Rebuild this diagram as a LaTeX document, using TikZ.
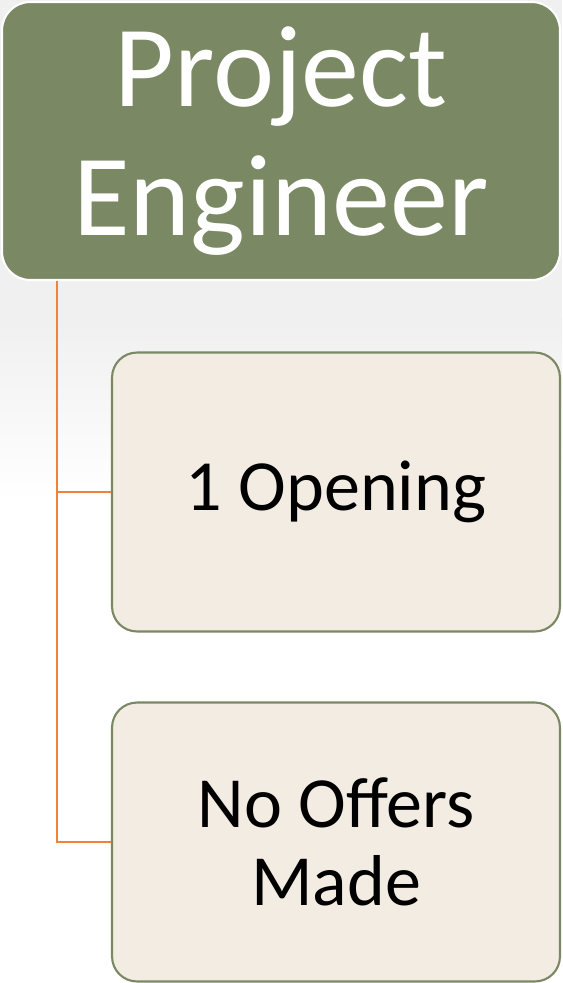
\documentclass[tikz,border=0pt]{standalone}
\usepackage{fontspec}
\setmainfont{Carlito}
\usepackage{tikz}
\usetikzlibrary{positioning}
\definecolor{olive}{HTML}{7A8964}
\definecolor{cream}{HTML}{F3ECE2}
\definecolor{linkorange}{HTML}{F0833A}
\tikzset{
  headbox/.style={draw=white, line width=1.2pt, fill=olive, rounded corners=0.56cm,
    minimum width=11.16cm, minimum height=5.56cm, align=center, text=white,
    font=\fontsize{66}{73}\selectfont},
  itembox/.style={draw=olive, line width=1.2pt, fill=cream, rounded corners=0.5cm,
    minimum width=8.96cm, minimum height=5.58cm, align=center, text=black,
    font=\fontsize{41}{44}\selectfont},
  link/.style={linkorange, line width=1.4pt}
}
\begin{document}
\begin{tikzpicture}[x=0.02cm, y=-0.02cm]
    % Background
    \useasboundingbox (0,0) rectangle (562,983);
    \fill[gray!12] (0,0) rectangle (562,320);
    \shade[top color=gray!12, bottom color=white] (0,319) rectangle (562,500);
    % Boxes
    \node[headbox] (head) at (281,141) {Project\\Engineer};
    \node[itembox] (opening) at (336,492) {1 Opening};
    \node[itembox] (offers) at (336,842) {No Offers\\Made};
    % Connectors
    \coordinate (trunk) at (57,281);
    \draw[link] (trunk) |- (opening.west);
    \draw[link] (trunk) |- (offers.west);
\end{tikzpicture}
\end{document}
